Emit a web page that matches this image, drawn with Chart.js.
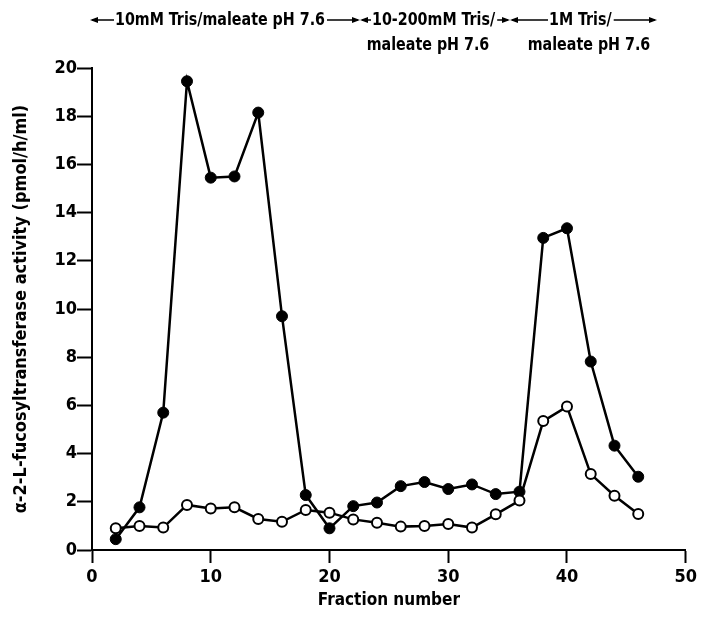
<!DOCTYPE html>
<html>
<head>
<meta charset="utf-8">
<script src="https://cdn.jsdelivr.net/npm/chart.js@4/dist/chart.umd.min.js"></script>
<style>
    html, body { margin: 0; padding: 0; background: #fff; }
    #wrap { width: 701px; height: 629px; }
</style>
</head>
<body>
<div id="wrap"><canvas id="fucChart" width="701" height="629"></canvas></div>
<script>
// ================= DATA =================
const fractions = [2,4,6,8,10,12,14,16,18,20,22,24,26,28,30,32,34,36,38,40,42,44,46];
const closedActivity = [0.45,1.77,5.7,19.45,15.45,15.5,18.15,9.7,2.28,0.9,1.82,1.97,2.65,2.82,2.53,2.72,2.32,2.42,12.95,13.35,7.82,4.33,3.04];
const openActivity = [0.9,1.0,0.93,1.87,1.72,1.77,1.29,1.17,1.66,1.55,1.27,1.13,0.97,1.0,1.08,0.93,1.48,2.05,5.35,5.95,3.15,2.25,1.49];
const xTicks = [0,10,20,30,40,50];
const yTicks = [0,2,4,6,8,10,12,14,16,18,20];

const FONT = "'Liberation Sans Narrow', 'DejaVu Sans Condensed', 'Roboto Condensed', sans-serif";

function toPoints(xs, ys) {
    return xs.map((x, i) => ({ x: x, y: ys[i] }));
}

// ================= HEADER (buffer steps) =================
const headerPlugin = {
    id: "header",
    afterDraw(chart) {
        const ctx = chart.ctx;
        ctx.save();
        ctx.fillStyle = "#000";
        ctx.strokeStyle = "#000";
        ctx.lineWidth = 1.6;
        ctx.font = "bold 18px " + FONT;
        ctx.textBaseline = "middle";
        ctx.textAlign = "left";

        // one squeeze factor so the first label has its printed width
        const sx = 210 / ctx.measureText("10mM Tris/maleate pH 7.6").width;

        function squeezed(label, left, y) {
            ctx.save();
            ctx.translate(left, y);
            ctx.scale(sx, 1);
            ctx.fillText(label, 0, 0);
            ctx.restore();
            return ctx.measureText(label).width * sx;
        }

        function head(x, y, dir) {
            ctx.beginPath();
            ctx.moveTo(x, y);
            ctx.lineTo(x - dir * 8, y - 3);
            ctx.lineTo(x - dir * 8, y + 3);
            ctx.closePath();
            ctx.fill();
        }

        const y1 = 20, y2 = 45;
        // [segment start, segment end, text left, text]
        const segs = [
            [90, 360, 115, "10mM Tris/maleate pH 7.6"],
            [360, 510, 372, "10-200mM Tris/"],
            [510, 657, 549, "1M Tris/"]
        ];

        segs.forEach(([a, b, tx, label]) => {
            const tw = squeezed(label, tx, y1);
            ctx.beginPath();
            ctx.moveTo(a + 2, y1);
            ctx.lineTo(tx - 1, y1);
            ctx.moveTo(tx + tw + 2, y1);
            ctx.lineTo(b - 2, y1);
            ctx.stroke();
            head(a, y1, -1);
            head(b, y1, 1);
        });

        const w2 = ctx.measureText("maleate pH 7.6").width * sx;
        squeezed("maleate pH 7.6", 428 - w2 / 2, y2);
        squeezed("maleate pH 7.6", 589 - w2 / 2, y2);
        ctx.restore();
    }
};

// ================= CHART =================
const ctx = document.getElementById("fucChart");
new Chart(ctx, {
    type: "line",
    data: {
        datasets: [
            {
                label: "closed",
                data: toPoints(fractions, closedActivity),
                borderColor: "#000",
                backgroundColor: "#000",
                borderWidth: 2.5,
                pointRadius: 5.5,
                pointBackgroundColor: "#000",
                pointBorderColor: "#000",
                pointBorderWidth: 1,
                tension: 0,
                order: 2
            },
            {
                label: "open",
                data: toPoints(fractions, openActivity),
                borderColor: "#000",
                backgroundColor: "#fff",
                borderWidth: 2.5,
                pointRadius: 5,
                pointBackgroundColor: "#fff",
                pointBorderColor: "#000",
                pointBorderWidth: 2,
                tension: 0,
                order: 1
            }
        ]
    },
    options: {
        responsive: false,
        animation: false,
        layout: { padding: { top: 68, right: 14, bottom: 0, left: 0 } },
        plugins: {
            legend: { display: false },
            tooltip: { enabled: false }
        },
        scales: {
            x: {
                type: "linear",
                min: 0,
                max: 50,
                afterBuildTicks: (scale) => { scale.ticks = xTicks.map(v => ({ value: v })); },
                afterFit: (scale) => { scale.height = 79; },
                border: { display: true, color: "#000", width: 2 },
                grid: { drawOnChartArea: false, drawTicks: true, tickLength: 13, tickColor: "#000", tickWidth: 2 },
                ticks: { color: "#000", padding: 4, font: { family: FONT, size: 18, weight: "bold" } },
                title: {
                    display: true,
                    text: "Fraction number",
                    color: "#000",
                    padding: { top: 0, bottom: 18 },
                    font: { family: FONT, size: 17, weight: "bold" }
                }
            },
            y: {
                min: 0,
                max: 20,
                afterBuildTicks: (scale) => { scale.ticks = yTicks.map(v => ({ value: v })); },
                afterFit: (scale) => { scale.width = 92; },
                border: { display: true, color: "#000", width: 2 },
                grid: { drawOnChartArea: false, drawTicks: true, tickLength: 15, tickColor: "#000", tickWidth: 2 },
                ticks: { color: "#000", padding: 0, font: { family: FONT, size: 18, weight: "bold" } },
                title: {
                    display: true,
                    text: "α-2-L-fucosyltransferase activity (pmol/h/ml)",
                    color: "#000",
                    padding: { top: 11, bottom: 0 },
                    font: { family: FONT, size: 18, weight: "bold" }
                }
            }
        }
    },
    plugins: [headerPlugin]
});
</script>
</body>
</html>
